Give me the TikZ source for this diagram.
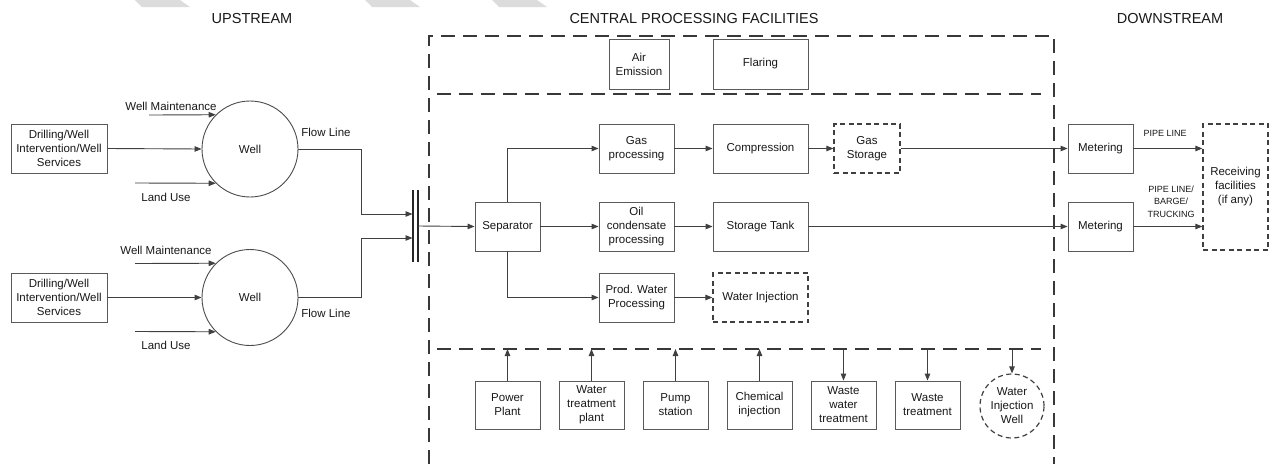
\documentclass[tikz,border=0pt]{standalone}
\usepackage{fontspec}
\setmainfont{Liberation Sans}
\usetikzlibrary{arrows.meta,calc}
\definecolor{lin}{HTML}{404040}
\definecolor{brd}{HTML}{5A5A5A}
\definecolor{wm}{HTML}{DCDCDC}
\begin{document}
\begin{tikzpicture}[x=1pt,y=-1pt,
  every node/.style={font=\fontsize{11.5}{14}\selectfont, text=black!90, inner sep=0pt},
  pbox/.style={draw=brd, line width=0.9pt, align=center, minimum height=49pt},
  dbox/.style={draw=black!75, line width=1.2pt, dash pattern=on 5pt off 3.5pt, align=center, minimum height=49pt},
  wellc/.style={draw=black!70, line width=0.9pt, circle, minimum size=96pt},
  conn/.style={draw=lin, line width=0.9pt},
  arr/.style={conn, -{Triangle[length=7pt,width=5.5pt]}},
  bound/.style={draw=black!78, line width=1.5pt, dash pattern=on 14pt off 8pt},
  hdr/.style={font=\fontsize{14.5}{17}\selectfont},
  small/.style={font=\fontsize{9}{12.5}\selectfont, align=center},
  lbl/.style={font=\fontsize{11.5}{14}\selectfont}
]
\useasboundingbox (0,0) rectangle (1270,464);
\fill[white] (0,0) rectangle (1270,464);
% faint stripes at top
\foreach \sx in {135,365,492}{
  \fill[wm] (\sx,0) -- (\sx+45,0) -- (\sx+55,7) -- (\sx+7,7) -- cycle;
}
% headers
\node[hdr] (hup) at (252,19) {UPSTREAM};
\node[hdr] (hcpf) at (694,19) {CENTRAL PROCESSING FACILITIES};
\node[hdr] (hdn) at (1170,19) {DOWNSTREAM};

% CPF boundary
\draw[bound] (429,464) -- (429,36) -- (1054,36) -- (1054,464);
\coordinate (topL) at (437,94);
\coordinate (topR) at (1041,94);
\coordinate (busL) at (437,349);
\coordinate (busR) at (1041,349);
\draw[bound] (topL) -- (topR);
\draw[bound] (busL) -- (busR);

% top boxes
\node[pbox, minimum width=60pt, minimum height=50pt] (air) at (639,64) {Air\\Emission};
\node[pbox, minimum width=95pt, minimum height=50pt] (flare) at (760.5,64) {Flaring};

% upstream group 1
\node[pbox, minimum width=96pt] (dr1) at (59,148.5) {Drilling/Well\\Intervention/Well\\Services};
\node[wellc] (w1) at (250,149) {Well};
\coordinate (wm1) at (149,115);
\coordinate (lu1) at (135,183);
\node[lbl] (wmt1) at (171,106) {Well Maintenance};
\node[lbl] (lut1) at (166,197) {Land Use};
\node[lbl] (flt1) at (326,132) {Flow Line};
\draw[arr] (dr1.east) -- (w1.west);
\draw[arr] (wm1) -- (w1.135);
\draw[arr] (lu1) -- (w1.225);

% upstream group 2
\node[pbox, minimum width=96pt] (dr2) at (59,297.5) {Drilling/Well\\Intervention/Well\\Services};
\node[wellc] (w2) at (250,297.5) {Well};
\coordinate (wm2) at (135,263.5);
\coordinate (lu2) at (135,331.5);
\node[lbl] (wmt2) at (166,250) {Well Maintenance};
\node[lbl] (lut2) at (166,345) {Land Use};
\node[lbl] (flt2) at (326,313) {Flow Line};
\draw[arr] (dr2.east) -- (w2.west);
\draw[arr] (wm2) -- (w2.135);
\draw[arr] (lu2) -- (w2.225);

% manifold
\coordinate (mA) at (413,190);
\coordinate (mB) at (413,262);
\coordinate (mC) at (418,190);
\coordinate (mD) at (418,262);
\draw[draw=black!85, line width=1.3pt] (mA) -- (mB);
\draw[draw=black!85, line width=1.3pt] (mC) -- (mD);
\coordinate (m1in) at (412.5,214);
\coordinate (m2in) at (412.5,238);
\coordinate (mout) at (418,226);
\draw[arr] (w1.east) -- ++(63,0) |- (m1in);
\draw[arr] (w2.east) -- ++(63,0) |- (m2in);

% processing
\node[pbox, minimum width=65pt] (sep) at (507.5,226.5) {Separator};
\node[pbox, minimum width=75pt] (gasp) at (636.5,148.5) {Gas\\processing};
\node[pbox, minimum width=95pt] (comp) at (760.5,148.5) {Compression};
\node[dbox, minimum width=66pt] (gst) at (867,148.5) {Gas\\Storage};
\node[pbox, minimum width=75pt] (oil) at (636.5,226.5) {Oil\\condensate\\processing};
\node[pbox, minimum width=95pt] (tank) at (760.5,226.5) {Storage Tank};
\node[pbox, minimum width=75pt] (pw) at (636.5,297.5) {Prod. Water\\Processing};
\node[dbox, minimum width=95pt] (wi) at (760.5,297.5) {Water Injection};

\draw[arr] (mout) -- (sep.west);
\draw[arr] (sep.north) |- (gasp.west);
\draw[arr] (sep.east) -- (oil.west);
\draw[arr] (sep.south) |- (pw.west);
\draw[arr] (gasp.east) -- (comp.west);
\draw[arr] (comp.east) -- (gst.west);
\draw[arr] (oil.east) -- (tank.west);
\draw[arr] (pw.east) -- (wi.west);

% downstream
\node[pbox, minimum width=65pt] (met1) at (1100.5,148.5) {Metering};
\node[pbox, minimum width=65pt] (met2) at (1100.5,226.5) {Metering};
\node[dbox, minimum width=65pt, minimum height=126pt] (recv) at (1235.5,187) {Receiving\\facilities\\(if any)};
\draw[arr] (gst.east) -- (met1.west);
\draw[arr] (tank.east) -- (met2.west);
\coordinate (r1) at (recv.west |- met1.east);
\coordinate (r2) at (recv.west |- met2.east);
\draw[arr] (met1.east) -- (r1);
\draw[arr] (met2.east) -- (r2);
\node[small] (pl1) at (1165,133) {PIPE LINE};
\node[small] (pl2) at (1171,201.5) {PIPE LINE/\\BARGE/\\TRUCKING};

% utilities
\node[pbox, minimum width=65pt, minimum height=48pt] (pp) at (507.5,405) {Power\\Plant};
\node[pbox, minimum width=65pt, minimum height=48pt] (wt) at (591.5,405) {Water\\treatment\\plant};
\node[pbox, minimum width=65pt, minimum height=48pt] (ps) at (675.5,405) {Pump\\station};
\node[pbox, minimum width=65pt, minimum height=48pt] (ci) at (759.5,405) {Chemical\\injection};
\node[pbox, minimum width=65pt, minimum height=48pt] (ww) at (843.5,405) {Waste\\water\\treatment};
\node[pbox, minimum width=65pt, minimum height=48pt] (wst) at (927.5,405) {Waste\\treatment};
\node[circle, draw=black!75, line width=1.2pt, dash pattern=on 5pt off 3.5pt, minimum size=64pt, align=center] (wiw) at (1012,406) {Water\\Injection\\Well};

\draw[arr] (pp.north) -- (pp.north |- busL);
\draw[arr] (wt.north) -- (wt.north |- busL);
\draw[arr] (ps.north) -- (ps.north |- busL);
\draw[arr] (ci.north) -- (ci.north |- busL);
\draw[arr] (ww.north |- busL) -- (ww.north);
\draw[arr] (wst.north |- busL) -- (wst.north);
\draw[arr] (wiw.north |- busL) -- (wiw.north);
\end{tikzpicture}
\end{document}
